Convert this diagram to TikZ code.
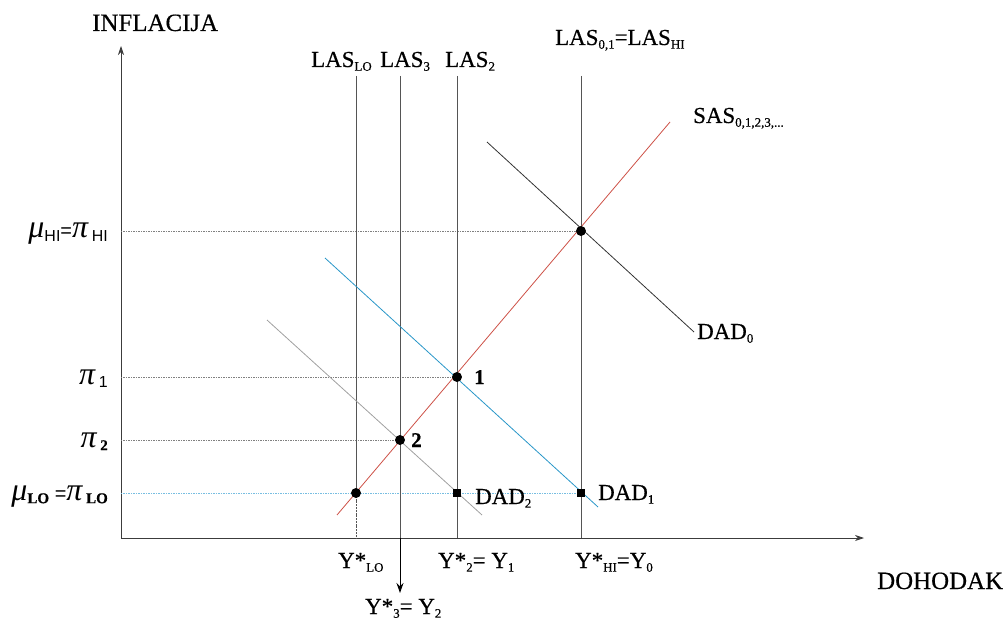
\documentclass[tikz,border=0pt]{standalone}
\usepackage{fontspec}
\setmainfont{Liberation Serif}[FakeBold=0.5]
\newfontfamily\sansf{Liberation Sans}
\newfontfamily\greekf{Liberation Serif}
\usetikzlibrary{arrows.meta}
\definecolor{axisgray}{RGB}{60,60,60}
\definecolor{lasgray}{RGB}{85,85,85}
\definecolor{sasred}{RGB}{205,80,70}
\definecolor{dadblue}{RGB}{40,150,200}
\definecolor{dadgray}{RGB}{160,160,160}
\definecolor{dadblack}{RGB}{50,50,50}
\definecolor{lightblue}{RGB}{120,190,225}
\newcommand\lsub[1]{\raisebox{-0.35ex}{\fontsize{13}{13}\selectfont #1}}
\newcommand\bsub[1]{\raisebox{-0.3ex}{\fontsize{15}{15}\selectfont\bfseries #1}}
\newcommand\ssub[1]{\raisebox{-0.3ex}{\fontsize{16}{16}\selectfont\sansf #1}}
\newcommand\gmu{{\greekf\fontsize{32}{32}\selectfont\itshape μ}}
\newcommand\gpi{{\greekf\fontsize{32}{32}\selectfont\itshape π}}
\newcommand\seq{{\sansf\fontsize{20}{20}\selectfont =}}
\tikzset{
  lbl/.style={inner sep=0pt, font=\fontsize{23}{26}\selectfont},
  big/.style={inner sep=0pt, font=\fontsize{25}{28}\selectfont},
  axis/.style={draw=axisgray, line width=0.8pt, -{Stealth[length=9pt,width=6pt]}},
  las/.style={draw=lasgray, line width=0.8pt},
  guide/.style={draw=gray, line width=0.6pt, dash pattern=on 1.5pt off 1pt},
  guideblue/.style={draw=lightblue, line width=0.7pt, dash pattern=on 1.5pt off 1pt},
  dot/.style={circle, fill=black, inner sep=0pt, minimum size=10pt},
  sq/.style={rectangle, fill=black, inner sep=0pt, minimum size=8pt},
}
\begin{document}
\begin{tikzpicture}[x=1bp,y=-1bp]
\useasboundingbox (0,0) rectangle (1006,625);
% axes
\coordinate (O) at (121,538);
\coordinate (ytip) at (121,46);
\coordinate (xtip) at (864,538);
\draw[axis] (O) -- (ytip);
\draw[axis] (O) -- (xtip);
% key points
\coordinate (E0) at (581,231);
\coordinate (E1) at (457,377);
\coordinate (E2) at (400,440);
\coordinate (ELO) at (356,493);
\coordinate (S2) at (457,493);
\coordinate (S1) at (581,493);
% LAS tops and bottoms
\coordinate (tLO) at (356,76);
\coordinate (t3) at (400,76);
\coordinate (t2) at (457,76);
\coordinate (tHI) at (581,76);
\coordinate (bLO) at (356,538);
\coordinate (b3) at (400,538);
\coordinate (b2) at (457,538);
\coordinate (bHI) at (581,538);
\coordinate (arr3) at (400,593);
% axis ends for guides
\coordinate (aHI) at (121,231);
\coordinate (a1) at (121,377);
\coordinate (a2) at (121,440);
\coordinate (aLO) at (121,493);
% guides
\draw[guide] (aHI) -- (E0);
\draw[guide] (a1) -- (E1);
\draw[guide] (a2) -- (E2);
\draw[guideblue] (aLO) -- (S1);
% LAS lines
\draw[las] (tLO) -- (ELO);
\draw[las, dash pattern=on 2pt off 0.8pt] (ELO) -- (bLO);
\draw[las] (t3) -- (b3);
\draw[las] (t2) -- (b2);
\draw[las] (tHI) -- (bHI);
\draw[black, line width=1pt, -{Stealth[length=10pt,width=7pt]}] (b3) -- (arr3);
% SAS
\coordinate (sasA) at (337,515);
\coordinate (sasB) at (670,122);
\draw[sasred, line width=0.8pt] (sasA) -- (sasB);
% DAD curves
\coordinate (d0a) at (487,142);
\coordinate (d0b) at (694,332);
\draw[dadblack, line width=0.8pt] (d0a) -- (d0b);
\coordinate (d1a) at (325,258);
\coordinate (d1b) at (598,507);
\draw[dadblue, line width=0.8pt] (d1a) -- (d1b);
\coordinate (d2a) at (267,320);
\coordinate (d2b) at (482,515);
\draw[dadgray, line width=0.8pt] (d2a) -- (d2b);
% markers
\node[dot] (mE0) at (E0) {};
\node[dot] (mE1) at (E1) {};
\node[dot] (mE2) at (E2) {};
\node[dot] (mELO) at (ELO) {};
\node[sq] (mS2) at (S2) {};
\node[sq] (mS1) at (S1) {};
% labels
\node[big, anchor=base west] (tInf) at (92,31) {INFLACIJA};
\node[big, anchor=base west] (tDoh) at (877,589) {DOHODAK};
\node[lbl, anchor=base west] (tLLO) at (311,67) {LAS\lsub{LO}};
\node[lbl, anchor=base west] (tL3) at (380,67) {LAS\lsub{3}};
\node[lbl, anchor=base west] (tL2) at (445,67) {LAS\lsub{2}};
\node[lbl, anchor=base west] (tLHI) at (555,45) {LAS\lsub{0,1}=LAS\lsub{HI}};
\node[lbl, anchor=base west] (tSAS) at (693,123) {SAS\lsub{0,1,2,3,...}};
\node[lbl, anchor=base west] (tD0) at (697,339) {DAD\lsub{0}};
\node[lbl, anchor=base west] (tD1) at (598,500) {DAD\lsub{1}};
\node[lbl, anchor=base west] (tD2) at (475,504) {DAD\lsub{2}};
\node[lbl, anchor=base west, font=\fontsize{21}{24}\selectfont\bfseries] (t1) at (474,384) {1};
\node[lbl, anchor=base west, font=\fontsize{21}{24}\selectfont\bfseries] (t2l) at (411,447) {2};
\node[lbl, anchor=base west] (tYLO) at (338,568) {Y*\lsub{LO}};
\node[lbl, anchor=base west] (tY2) at (438,568) {Y*\lsub{2}= Y\lsub{1}};
\node[lbl, anchor=base west] (tYHI) at (575,568) {Y*\lsub{HI}=Y\lsub{0}};
\node[lbl, anchor=base west] (tY3) at (365,614) {Y*\lsub{3}= Y\lsub{2}};
% left labels
\node[lbl, anchor=base east] (lHI) at (108,238) {\gmu\ssub{HI}\seq\gpi\,\ssub{HI}};
\node[lbl, anchor=base east] (l1) at (108,384) {\gpi\,\ssub{1}};
\node[lbl, anchor=base east] (l2) at (108,447) {\gpi\,\bsub{2}};
\node[lbl, anchor=base east] (lLO) at (108,500) {\gmu\bsub{LO}\ \seq\gpi\,\bsub{LO}};
\end{tikzpicture}
\end{document}
